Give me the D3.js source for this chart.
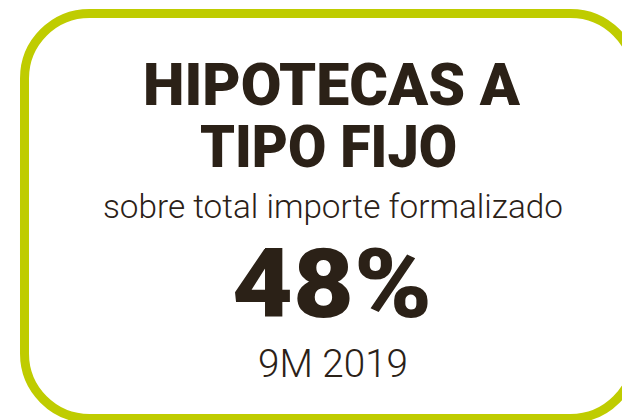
<!DOCTYPE html>
<html>
<head>
<meta charset="utf-8">
<script src="https://cdn.jsdelivr.net/npm/d3@7"></script>
<style>
  html, body { margin: 0; padding: 0; background: #fff; }
  svg { display: block; }
</style>
</head>
<body>
<script>
var width = 622;
var height = 420;

// card content
var titleLines = ["HIPOTECAS A", "TIPO FIJO"];
var subtitle = ["sobre total importe formalizado"];
var value = [48];
var period = ["9M 2019"];

var ink = "#2b2117";
var lime = "#bfcc00";

var svg = d3.select("body").append("svg")
    .attr("width", width)
    .attr("height", height);

// rounded frame, runs off the right and bottom edges
svg.append("rect")
    .attr("x", 24.5)
    .attr("y", 13.5)
    .attr("width", 611)
    .attr("height", 405)
    .attr("rx", 65)
    .attr("ry", 65)
    .attr("fill", "none")
    .attr("stroke", lime)
    .attr("stroke-width", 9);

var cx = 332;

// fit a text block into a measured width
function fit(sel, w, mode) {
  sel.each(function() {
    var len = this.getComputedTextLength();
    if (len > 0) {
      d3.select(this)
        .attr("textLength", w)
        .attr("lengthAdjust", mode || "spacingAndGlyphs");
    }
  });
}

var titleY = [105, 167];
var titleW = [377, 257];
var titleX = [331.5, 328.5];

svg.selectAll("text.title")
  .data(titleLines)
  .enter()
  .append("text")
  .attr("class", "title")
  .attr("x", function(d, i) { return titleX[i]; })
  .attr("y", function(d, i) { return titleY[i]; })
  .attr("text-anchor", "middle")
  .attr("font-family", "Roboto, Lato, sans-serif")
  .attr("font-weight", 900)
  .attr("font-size", 60)
  .attr("fill", ink)
  .text(function(d) { return d; })
  .each(function(d, i) { fit(d3.select(this), titleW[i], "spacingAndGlyphs"); });

svg.selectAll("text.sub")
  .data(subtitle)
  .enter()
  .append("text")
  .attr("class", "sub")
  .attr("x", 333)
  .attr("y", 218)
  .attr("text-anchor", "middle")
  .attr("font-family", "Roboto, 'Open Sans', sans-serif")
  .attr("font-weight", 300)
  .attr("font-size", 34)
  .attr("fill", ink)
  .text(function(d) { return d; })
  .call(fit, 460);

var pct = d3.format(".0%");

svg.selectAll("text.value")
  .data(value)
  .enter()
  .append("text")
  .attr("class", "value")
  .attr("x", cx)
  .attr("y", 317)
  .attr("text-anchor", "middle")
  .attr("font-family", "Roboto, Lato, sans-serif")
  .attr("font-weight", 900)
  .attr("font-size", 96)
  .attr("fill", ink)
  .text(function(d) { return pct(d / 100); })
  .call(fit, 200);

svg.selectAll("text.period")
  .data(period)
  .enter()
  .append("text")
  .attr("class", "period")
  .attr("x", 333)
  .attr("y", 377)
  .attr("text-anchor", "middle")
  .attr("font-family", "Roboto, 'Open Sans', sans-serif")
  .attr("font-weight", 300)
  .attr("font-size", 39)
  .attr("fill", ink)
  .text(function(d) { return d; })
  .call(fit, 150);
</script>
</body>
</html>
